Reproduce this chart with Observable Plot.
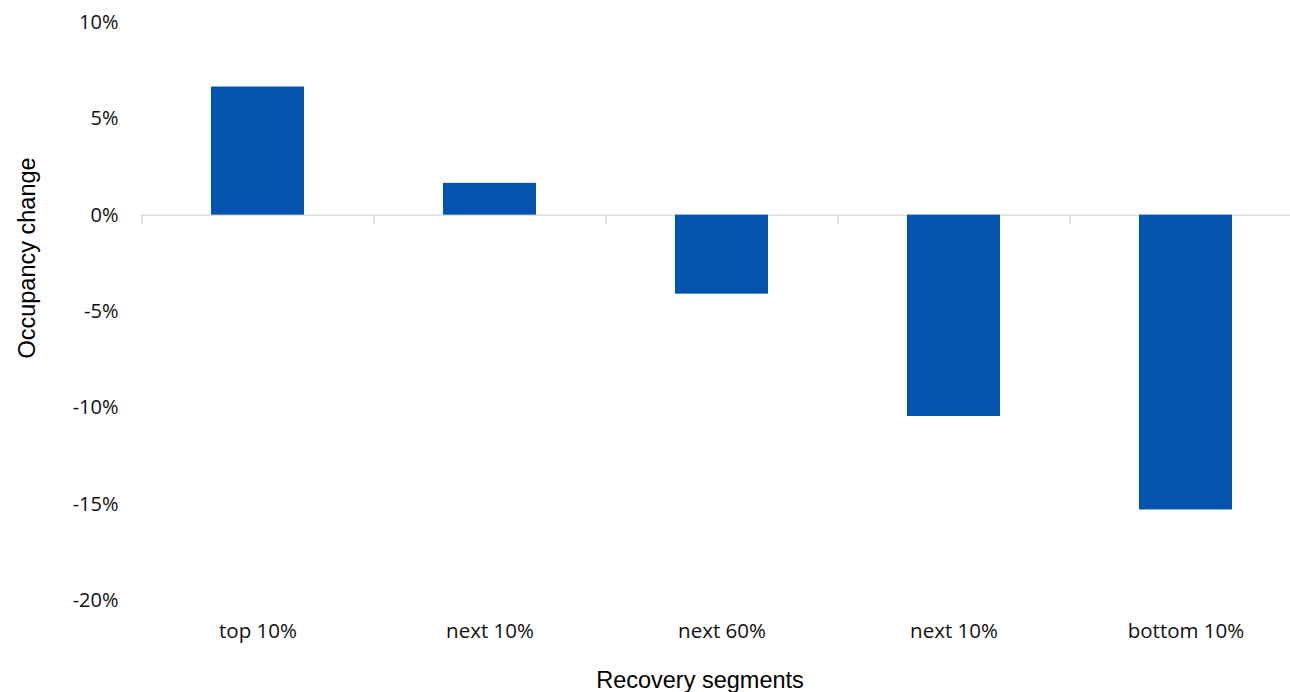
<!DOCTYPE html>
<html>
<head>
<meta charset="utf-8">
<script src="https://cdn.jsdelivr.net/npm/d3@7"></script>
<script src="https://cdn.jsdelivr.net/npm/@observablehq/plot@0.6"></script>
<style>
  html, body { margin: 0; padding: 0; background: #fff; }
  #chart { width: 1290px; height: 692px; overflow: hidden; }
</style>
</head>
<body>
<div id="chart"></div>
<script>
const categories = ["top 10%", "next 10%", "next 60%", "next 10%", "bottom 10%"];
const keys = ["top", "next10a", "next60", "next10b", "bottom"];
const values = [6.65, 1.65, -4.1, -10.45, -15.3];
const yTicks = [-20, -15, -10, -5, 0, 5, 10];
const yTitle = "Occupancy change";
const xTitle = "Recovery segments";

const data = keys.map((k, i) => ({key: k, label: categories[i], value: values[i]}));
const labelOf = new Map(keys.map((k, i) => [k, categories[i]]));

const tickFont = "'Open Sans', 'Noto Sans', sans-serif";

const plot = Plot.plot({
  width: 1290,
  height: 692,
  marginTop: 22,
  marginBottom: 92,
  marginLeft: 141,
  marginRight: 0,
  style: {fontFamily: tickFont, fontSize: "20px", color: "#111", background: "#fff"},
  x: {domain: keys, range: [141, 1301], padding: 0.6, paddingOuter: 0.3},
  y: {domain: [-20, 10], range: [600, 22]},
  marks: [
    Plot.ruleY([0], {stroke: "#d9d9d9", strokeWidth: 1.3}),
    Plot.ruleX(keys, {x: d => d, y1: 0, y2: -0.52, dx: -116, stroke: "#d9d9d9", strokeWidth: 1.3}),
    Plot.barY(data, {x: "key", y: "value", fill: "#0453AF"}),
    Plot.axisY({ticks: yTicks, tickSize: 0, tickPadding: 23, tickFormat: d => d + "%", label: null, fontSize: 20}),
    Plot.axisX({tickSize: 0, tickPadding: 23, tickFormat: d => labelOf.get(d), label: null, fontSize: 20.5})
  ]
});

document.getElementById("chart").appendChild(plot);

const svg = d3.select(plot);
svg.append("text")
  .attr("transform", "translate(35,258) rotate(-90)")
  .attr("text-anchor", "middle")
  .attr("font-family", "'Liberation Sans', Arial, sans-serif")
  .attr("font-size", 23.5)
  .attr("fill", "#000")
  .text(yTitle);
svg.append("text")
  .attr("x", 700)
  .attr("y", 688)
  .attr("text-anchor", "middle")
  .attr("font-family", "'Liberation Sans', Arial, sans-serif")
  .attr("font-size", 23.5)
  .attr("fill", "#000")
  .text(xTitle);
</script>
</body>
</html>
